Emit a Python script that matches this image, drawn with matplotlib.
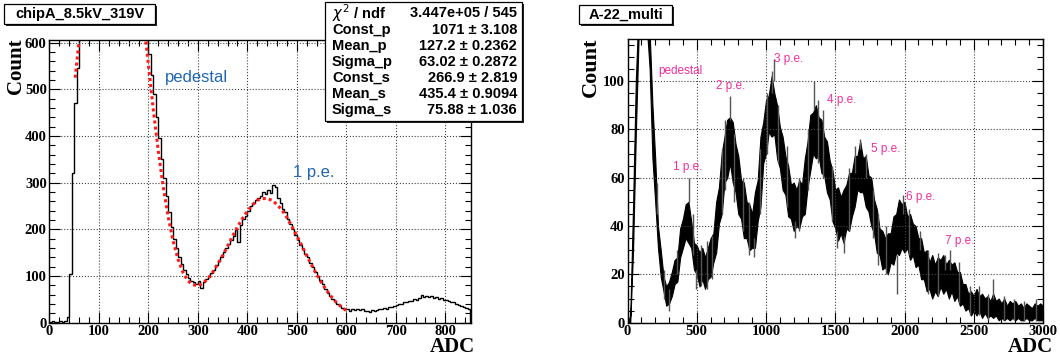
import numpy as np
import matplotlib.pyplot as plt
from matplotlib.patches import Rectangle
from matplotlib.ticker import MultipleLocator, AutoMinorLocator

# --- left histogram: chipA_8.5kV_319V, 5 ADC bins from 0 to 850 ---
BIN_W = 5
chipA_counts = [
    2, 3, 2, 2, 3, 2, 3, 12, 105, 320,
    470, 545, 640, 700, 750, 800, 850, 890, 930, 970,
    1000, 1030, 1050, 1065, 1070, 1072, 1070, 1062, 1050, 1030,
    1008, 980, 948, 912, 872, 830, 785, 740, 690, 615,
    575, 530, 490, 440, 395, 350, 310, 272, 236, 205,
    180, 160, 140, 126, 112, 104, 96, 90, 86, 82,
    88, 74, 86, 94, 98, 106, 112, 124, 132, 140,
    152, 160, 168, 178, 186, 198, 172, 210, 222, 228,
    240, 250, 256, 262, 268, 272, 280, 276, 284, 278,
    296, 290, 268, 256, 244, 236, 222, 212, 200, 188,
    178, 166, 158, 148, 140, 128, 120, 108, 100, 92,
    82, 72, 64, 56, 50, 46, 40, 36, 32, 30,
    28, 24, 30, 27, 28, 26, 29, 25, 24, 23,
    26, 24, 27, 29, 28, 31, 30, 34, 33, 36,
    38, 40, 39, 43, 44, 47, 46, 50, 49, 53,
    58, 55, 57, 54, 56, 53, 54, 50, 52, 49,
    48, 46, 43, 44, 40, 38, 35, 33, 31, 29,
]

# double gaussian fit
fit_x = [52, 54, 56, 58, 60, 70, 80, 90, 100, 110, 120, 130, 140, 150, 160,
         170, 180, 190, 200, 210, 220, 230, 240, 250, 260, 270, 280, 290,
         300, 310, 320, 330, 340, 350, 360, 370, 380, 390, 400, 410, 420,
         430, 440, 450, 460, 470, 480, 490, 500, 510, 520, 530, 540, 550,
         560, 570, 580, 590, 600]
fit_y = [525, 546, 566, 586, 606, 708, 800, 893, 970, 1032, 1064, 1069, 1050,
         1003, 934, 850, 755, 653, 552, 455, 367, 290, 226, 174, 135, 107,
         89, 81, 79, 84, 94, 108, 125, 144, 164, 185, 205, 223, 239, 252,
         262, 266, 266, 262, 253, 241, 225, 206, 186, 165, 143, 123, 103,
         85, 69, 55, 43, 34, 25]

stats_names = [r'$\chi^{2}$ / ndf', 'Const_p', 'Mean_p', 'Sigma_p',
               'Const_s', 'Mean_s', 'Sigma_s']
stats_vals = ['3.447e+05 / 545', '1071 ± 3.108', '127.2 ± 0.2362',
              '63.02 ± 0.2872', '266.9 ± 2.819', '435.4 ± 0.9094',
              '75.88 ± 1.036']

# --- right histogram: A-22_multi, noise band read every 20 ADC ---
adc = np.arange(0, 3001, 20)
band_lo = [
    0, 0, 30, 78, 118, 125, 125, 122, 105, 68,
    50, 31, 19, 13, 7, 8, 11, 16, 17, 27,
    31, 35, 33, 31, 22, 20, 15, 18, 14, 18,
    19, 25, 29, 41, 45, 58, 60, 66, 58, 54,
    45, 43, 35, 35, 30, 31, 31, 42, 48, 66,
    70, 79, 77, 78, 68, 64, 55, 53, 44, 43,
    38, 40, 39, 44, 45, 56, 63, 70, 68, 69,
    62, 61, 54, 51, 42, 39, 34, 37, 33, 39,
    38, 44, 48, 55, 54, 54, 48, 46, 40, 37,
    29, 28, 22, 23, 20, 25, 24, 29, 28, 31,
    29, 31, 26, 28, 23, 24, 18, 18, 13, 14,
    10, 13, 11, 15, 12, 14, 10, 13, 9, 11,
    7, 8, 5, 6, 3, 5, 3, 5, 2, 4,
    2, 3, 2, 3, 1, 2, 1, 2, 1, 2,
    1, 2, 1, 1, 2, 1, 1, 2, 1, 1,
    1,
]
band_hi = [
    0, 3, 48, 100, 130, 140, 140, 135, 120, 90,
    68, 40, 30, 19, 15, 17, 21, 26, 27, 39,
    43, 49, 50, 42, 33, 32, 29, 31, 27, 31,
    35, 37, 50, 56, 70, 77, 84, 85, 83, 74,
    69, 59, 58, 50, 49, 45, 54, 59, 77, 83,
    92, 94, 102, 95, 90, 81, 77, 69, 65, 57,
    58, 55, 59, 57, 68, 75, 86, 87, 90, 85,
    84, 77, 75, 67, 63, 55, 56, 52, 55, 57,
    62, 62, 69, 69, 75, 68, 69, 61, 60, 51,
    47, 39, 38, 35, 37, 37, 44, 45, 51, 49,
    50, 44, 45, 41, 40, 35, 35, 29, 30, 25,
    28, 24, 27, 26, 28, 24, 26, 24, 25, 21,
    21, 16, 16, 12, 13, 11, 14, 11, 12, 10,
    11, 9, 12, 9, 10, 8, 10, 7, 9, 8,
    9, 7, 8, 6, 8, 7, 6, 8, 7, 8,
    7,
]
# single-bin spikes sticking out of the band
spike_x = [210, 260, 300, 355, 445, 470, 498, 530, 575, 610, 680, 705, 743,
           770, 835, 880, 915, 958, 1010, 1040, 1055, 1090, 1150, 1212, 1240,
           1300, 1345, 1372, 1410, 1480, 1512, 1560, 1600, 1640, 1677, 1720,
           1770, 1810, 1870, 1944, 1990, 2035, 2110, 2170, 2240, 2290, 2325,
           2390, 2470, 2540, 2600, 2640, 2720, 2790, 2860, 2950]
spike_lo = [45, 10, 5, 20, 50, 28, 14, 15, 14, 18, 45, 55, 84,
            50, 38, 28, 27, 45, 70, 95, 100, 66, 48, 35, 38,
            55, 88, 66, 60, 42, 31, 29, 38, 62, 72, 60,
            35, 24, 20, 12, 45, 28, 30, 12, 11, 22, 22,
            8, 3, 3, 1, 10, 1, 1, 0.5, 0.5]
spike_hi = [58, 22, 14, 30, 60, 45, 22, 32, 34, 36, 72, 84, 94,
            78, 60, 50, 35, 72, 95, 104, 109, 90, 73, 42, 60,
            80, 100, 92, 88, 65, 38, 36, 64, 73, 76, 70,
            55, 45, 40, 28, 53, 47, 38, 30, 29, 28, 30,
            25, 15, 15, 12, 18, 11, 10, 9, 10]

pe_labels = ['pedestal', '1 p.e.', '2 p.e.', '3 p.e.', '4 p.e.',
             '5 p.e.', '6 p.e.', '7 p.e.']
pe_x = [220, 329, 640, 1059, 1442, 1760, 2013, 2295]
pe_y = [104, 64.5, 98, 109, 92, 72, 52, 34]

SERIF = 'Liberation Serif'
SANS = 'Liberation Sans'
BLUE = '#2166b3'
PINK = '#f02f9c'

fig = plt.figure(figsize=(10.6, 3.59), dpi=100)
W, H = 1060, 359


def px_axes(x0, y0, x1, y1):
    return fig.add_axes([x0 / W, 1 - y1 / H, (x1 - x0) / W, (y1 - y0) / H])


def root_style(ax, xmaj, xmin, ymaj, ymin):
    ax.xaxis.set_major_locator(MultipleLocator(xmaj))
    ax.xaxis.set_minor_locator(AutoMinorLocator(xmin))
    ax.yaxis.set_major_locator(MultipleLocator(ymaj))
    ax.yaxis.set_minor_locator(AutoMinorLocator(ymin))
    ax.tick_params(which='both', direction='in', top=True, right=True,
                   width=0.8, colors='black')
    ax.tick_params(which='major', length=8, pad=2)
    ax.tick_params(which='minor', length=4)
    for lab in ax.get_xticklabels() + ax.get_yticklabels():
        lab.set_fontfamily(SERIF)
        lab.set_fontweight('bold')
        lab.set_fontsize(10.5)
    ax.grid(True, which='major', linestyle=':', color='#444444', linewidth=0.8)
    for sp in ax.spines.values():
        sp.set_linewidth(1.0)


def title_box(x0, y0, x1, y1, text, size):
    # ROOT pave with a dark shadow on the right/bottom
    fig.patches.append(Rectangle(((x0 + 2) / W, 1 - (y1 + 2) / H), (x1 - x0) / W,
                                 (y1 - y0) / H, transform=fig.transFigure,
                                 facecolor='#222222', edgecolor='none', zorder=5))
    fig.patches.append(Rectangle((x0 / W, 1 - y1 / H), (x1 - x0) / W, (y1 - y0) / H,
                                 transform=fig.transFigure, facecolor='white',
                                 edgecolor='black', linewidth=0.9, zorder=6))
    if text:
        fig.text((x0 + x1) / 2 / W, 1 - (y0 + y1) / 2 / H, text, ha='center',
                 va='center', fontsize=size, fontweight='bold', family=SANS,
                 zorder=7)


# ---------------- left panel ----------------
ax1 = px_axes(49.5, 40, 471, 322.5)
edges = np.arange(len(chipA_counts) + 1) * BIN_W
ax1.stairs(chipA_counts, edges, color='black', linewidth=1.0)
ax1.plot(fit_x, fit_y, color='#ff1a1a', linestyle=(0, (1, 1)), linewidth=2.2)
ax1.set_xlim(0, 852)
ax1.set_ylim(0, 606)
root_style(ax1, 100, 5, 100, 5)
ax1.text(234, 525, 'pedestal', color=BLUE, fontsize=12, family=SANS,
         ha='left', va='center')
ax1.text(492, 321, '1 p.e.', color=BLUE, fontsize=12, family=SANS,
         ha='left', va='center')
ax1.text(-0.08, 1.005, 'Count', rotation=90, transform=ax1.transAxes,
         ha='center', va='top', fontsize=15, fontweight='bold', family=SERIF)
ax1.text(1.01, -0.05, 'ADC', transform=ax1.transAxes, ha='right', va='top',
         fontsize=15, fontweight='bold', family=SERIF)

# ---------------- right panel ----------------
ax2 = px_axes(627.5, 39, 1043, 322.7)
ax2.fill_between(adc, band_lo, band_hi, color='black', linewidth=0.8)
ax2.vlines(spike_x, spike_lo, spike_hi, color='#555555', linewidth=1.0)
ax2.set_xlim(0, 3000)
ax2.set_ylim(0, 117.4)
root_style(ax2, 500, 5, 20, 4)
for lab, x, y in zip(pe_labels, pe_x, pe_y):
    ax2.text(x, y, lab, color=PINK, fontsize=8.5, family=SANS,
             ha='left', va='center')
ax2.text(-0.088, 1.005, 'Count', rotation=90, transform=ax2.transAxes,
         ha='center', va='top', fontsize=16, fontweight='bold', family=SERIF)
ax2.text(1.025, -0.05, 'ADC', transform=ax2.transAxes, ha='right', va='top',
         fontsize=15, fontweight='bold', family=SERIF)

# ---------------- title boxes and fit stats ----------------
title_box(4, 4, 155, 24, 'chipA_8.5kV_319V', 10.5)
title_box(579, 5, 672, 24, 'A-22_multi', 10.5)
title_box(325, 2, 522, 121, '', 10)
row_y = [13, 30, 46, 62, 78, 94, 110]
for name, val, y in zip(stats_names, stats_vals, row_y):
    fig.text(332 / W, 1 - y / H, name, ha='left', va='center', fontsize=10.5,
             fontweight='bold', family=SANS, zorder=7)
    fig.text(517 / W, 1 - y / H, val, ha='right', va='center', fontsize=10.5,
             fontweight='bold', family=SANS, zorder=7)

fig.savefig('out.png', dpi=100)
